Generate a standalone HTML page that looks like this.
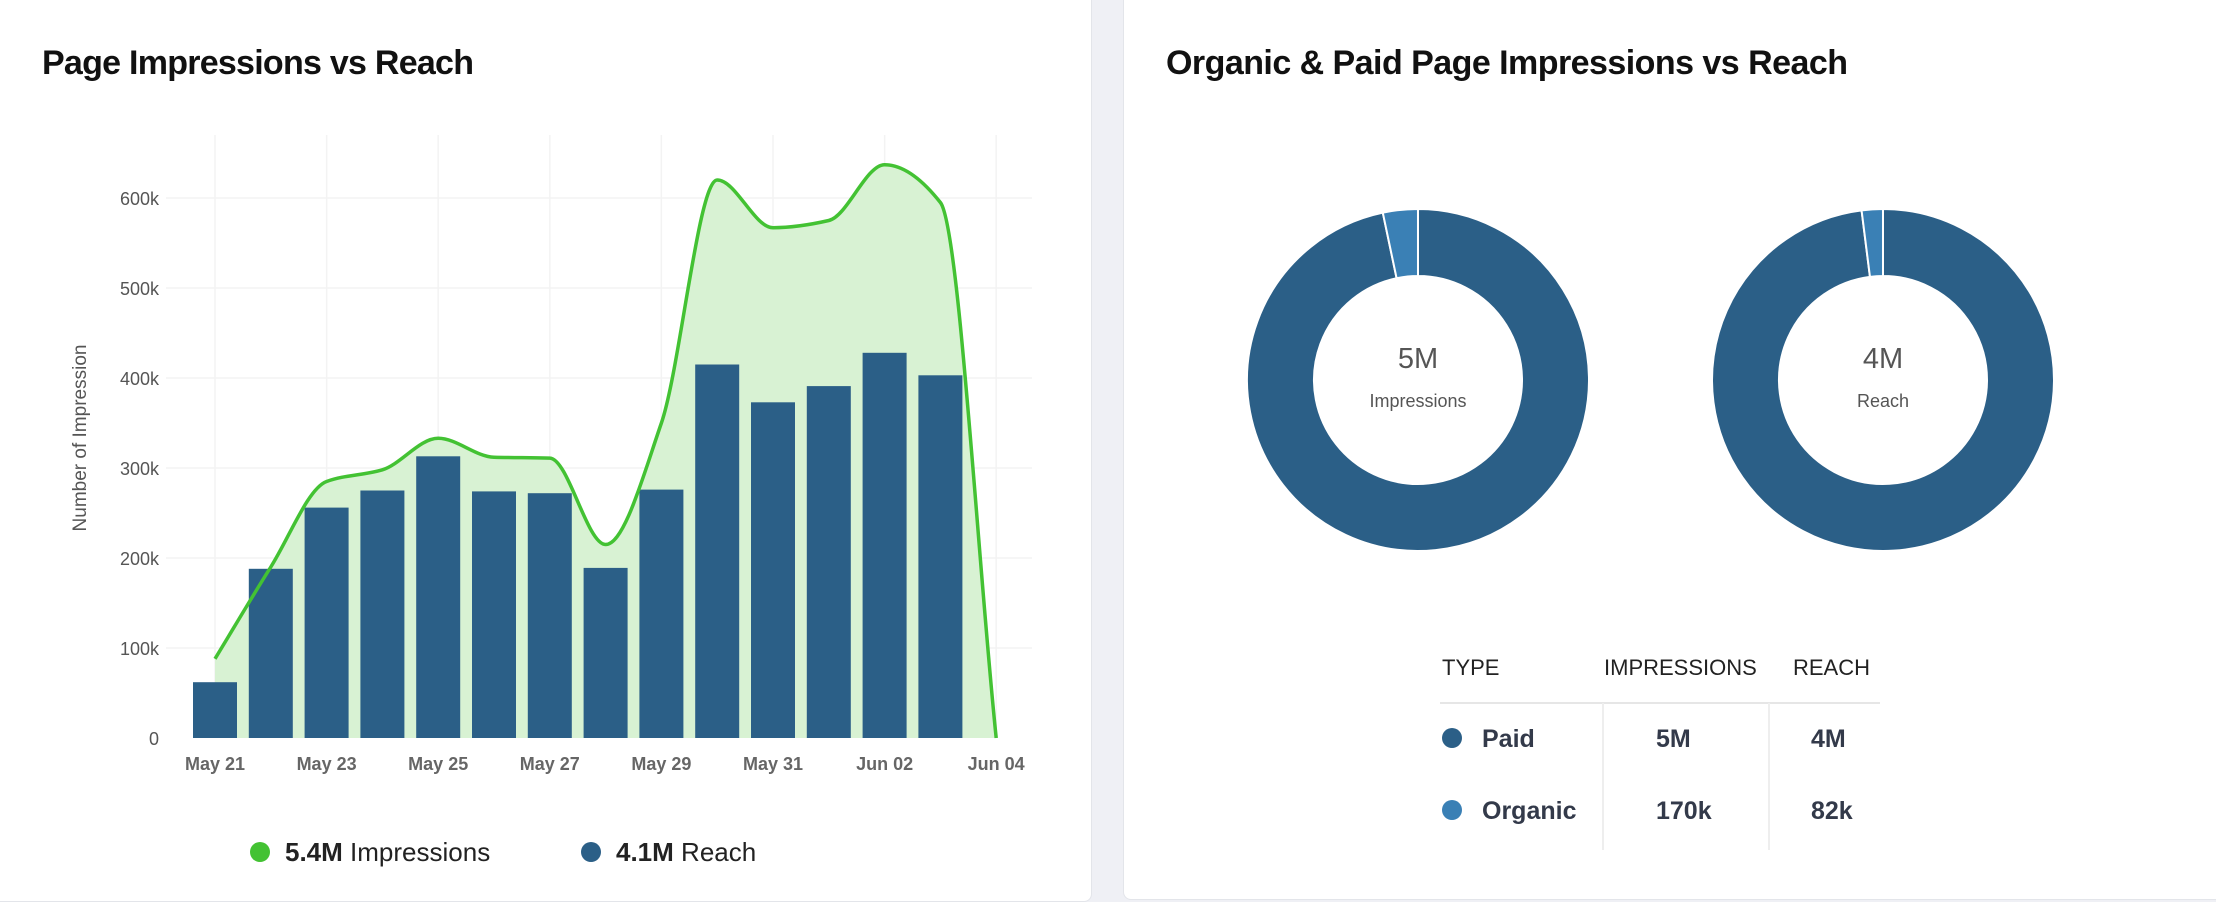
<!DOCTYPE html>
<html><head><meta charset="utf-8"><style>
html,body{margin:0;padding:0;width:2216px;height:902px;background:#eff0f5;overflow:hidden;font-family:"Liberation Sans",sans-serif;}
.card{position:absolute;background:#fff;border:1px solid #e3e5ea;border-radius:8px;}
</style></head><body>
<div class="card" style="left:-10px;top:-10px;width:1100px;height:910px;"></div>
<div class="card" style="left:1123px;top:-10px;width:1100px;height:908px;"></div>
<svg id="s" width="2216" height="902" style="position:absolute;left:0;top:0" font-family="Liberation Sans, sans-serif">
<text x="42" y="74" font-size="34" font-weight="bold" fill="#111" textLength="432">Page Impressions vs Reach</text>
<text x="1166" y="74" font-size="34" font-weight="bold" fill="#111" textLength="682">Organic &amp; Paid Page Impressions vs Reach</text>
<g id="grid" stroke="#f3f3f3" stroke-width="1.5"></g>
<path id="area" fill="#d8f2d3"></path>
<g id="bars" fill="#2b5f87"></g>
<path id="line" fill="none" stroke="#43c233" stroke-width="3.5"></path>
<g id="ylab" font-size="18" fill="#555" text-anchor="end"></g>
<g id="xlab" font-size="18" font-weight="bold" fill="#666" text-anchor="middle"></g>
<text transform="translate(86,438) rotate(-90)" font-size="19" fill="#555" text-anchor="middle">Number of Impression</text>
<circle cx="260" cy="852" r="10" fill="#43c233"/>
<text x="285" y="861" font-size="26" fill="#222"><tspan font-weight="bold">5.4M</tspan> Impressions</text>
<circle cx="591" cy="852" r="10" fill="#2b5f87"/>
<text x="616" y="861" font-size="26" fill="#222"><tspan font-weight="bold">4.1M</tspan> Reach</text>
<g id="donuts"></g>
<text x="1418" y="368" font-size="29" fill="#555" text-anchor="middle">5M</text>
<text x="1418" y="407" font-size="18" fill="#555" text-anchor="middle">Impressions</text>
<text x="1883" y="368" font-size="29" fill="#555" text-anchor="middle">4M</text>
<text x="1883" y="407" font-size="18" fill="#555" text-anchor="middle">Reach</text>
<g font-size="22" fill="#222">
<text x="1442" y="675">TYPE</text><text x="1604" y="675">IMPRESSIONS</text><text x="1793" y="675">REACH</text>
</g>
<line x1="1440" y1="703" x2="1880" y2="703" stroke="#e6e6e6" stroke-width="2"/>
<line x1="1603" y1="703" x2="1603" y2="850" stroke="#eee" stroke-width="2"/>
<line x1="1769" y1="703" x2="1769" y2="850" stroke="#eee" stroke-width="2"/>
<g font-size="25" font-weight="bold" fill="#333a4a">
<circle cx="1452" cy="738" r="10" fill="#2b5f87"/><text x="1482" y="747">Paid</text>
<text x="1656" y="747">5M</text><text x="1811" y="747">4M</text>
<circle cx="1452" cy="810" r="10" fill="#3a80b5"/><text x="1482" y="819">Organic</text>
<text x="1656" y="819">170k</text><text x="1811" y="819">82k</text>
</g>
</svg>
<script>
var NS="http://www.w3.org/2000/svg";
function el(p,t,a,txt){var e=document.createElementNS(NS,t);for(var k in a)e.setAttribute(k,a[k]);if(txt)e.textContent=txt;document.getElementById(p).appendChild(e);return e;}
var X0=215,DX=55.8,Y0=738,K=0.9;
for(var v=0;v<=600;v+=100){var y=Y0-v*K;if(v>0)el("grid","line",{x1:166,x2:1032,y1:y,y2:y});el("ylab","text",{x:159,y:y+7},v?v+"k":"0");}
var xl=["May 21","May 23","May 25","May 27","May 29","May 31","Jun 02","Jun 04"];
for(var i=0;i<8;i++){var x=X0+DX*2*i;el("grid","line",{x1:x,x2:x,y1:135,y2:Y0});el("xlab","text",{x:x,y:770},xl[i]);}
var bars=[62,188,256,275,313,274,272,189,276,415,373,391,428,403];
bars.forEach(function(b,i){el("bars","rect",{x:X0+DX*i-22,y:Y0-b*K,width:44,height:b*K});});
var ln=[88,190,285,298,333,312,311,215,350,620,567,575,637,595,0];
var n=ln.length,Y=ln.map(function(v){return Y0-v*K}),X=ln.map(function(v,i){return X0+DX*i});
var s=[];for(var i=0;i<n-1;i++)s.push((Y[i+1]-Y[i])/DX);
var m=[s[0]];for(var i=1;i<n-1;i++){if(s[i-1]*s[i]<=0)m.push(0);else{var a=s[i-1],b=s[i];m.push(2*a*b/(a+b));}}m.push(s[n-2]);
var d="M"+X[0]+","+Y[0];
for(var i=0;i<n-1;i++){var h=DX/3;d+=" C"+(X[i]+h)+","+(Y[i]+m[i]*h)+" "+(X[i+1]-h)+","+(Y[i+1]-m[i+1]*h)+" "+X[i+1]+","+Y[i+1];}
document.getElementById("line").setAttribute("d",d);
document.getElementById("area").setAttribute("d",d+" L"+X[n-1]+","+Y0+" L"+X[0]+","+Y0+"Z");
function arc(cx,cy,R,r,a0,a1,col){function pt(rad,a){return[cx+rad*Math.sin(a),cy-rad*Math.cos(a)]}
var large=(a1-a0)>Math.PI?1:0,o0=pt(R,a0),o1=pt(R,a1),i1=pt(r,a1),i0=pt(r,a0);
el("donuts","path",{d:"M"+o0+" A"+R+","+R+" 0 "+large+" 1 "+o1+" L"+i1+" A"+r+","+r+" 0 "+large+" 0 "+i0+"Z",fill:col,stroke:"#fff","stroke-width":2});}
var c1=0.033*2*Math.PI,c2=0.02*2*Math.PI;
arc(1418,380,171,104,0,2*Math.PI-c1,"#2b5f87");arc(1418,380,171,104,2*Math.PI-c1,2*Math.PI-0.0001,"#3a80b5");
arc(1883,380,171,104,0,2*Math.PI-c2,"#2b5f87");arc(1883,380,171,104,2*Math.PI-c2,2*Math.PI-0.0001,"#3a80b5");
</script>
</body></html>
